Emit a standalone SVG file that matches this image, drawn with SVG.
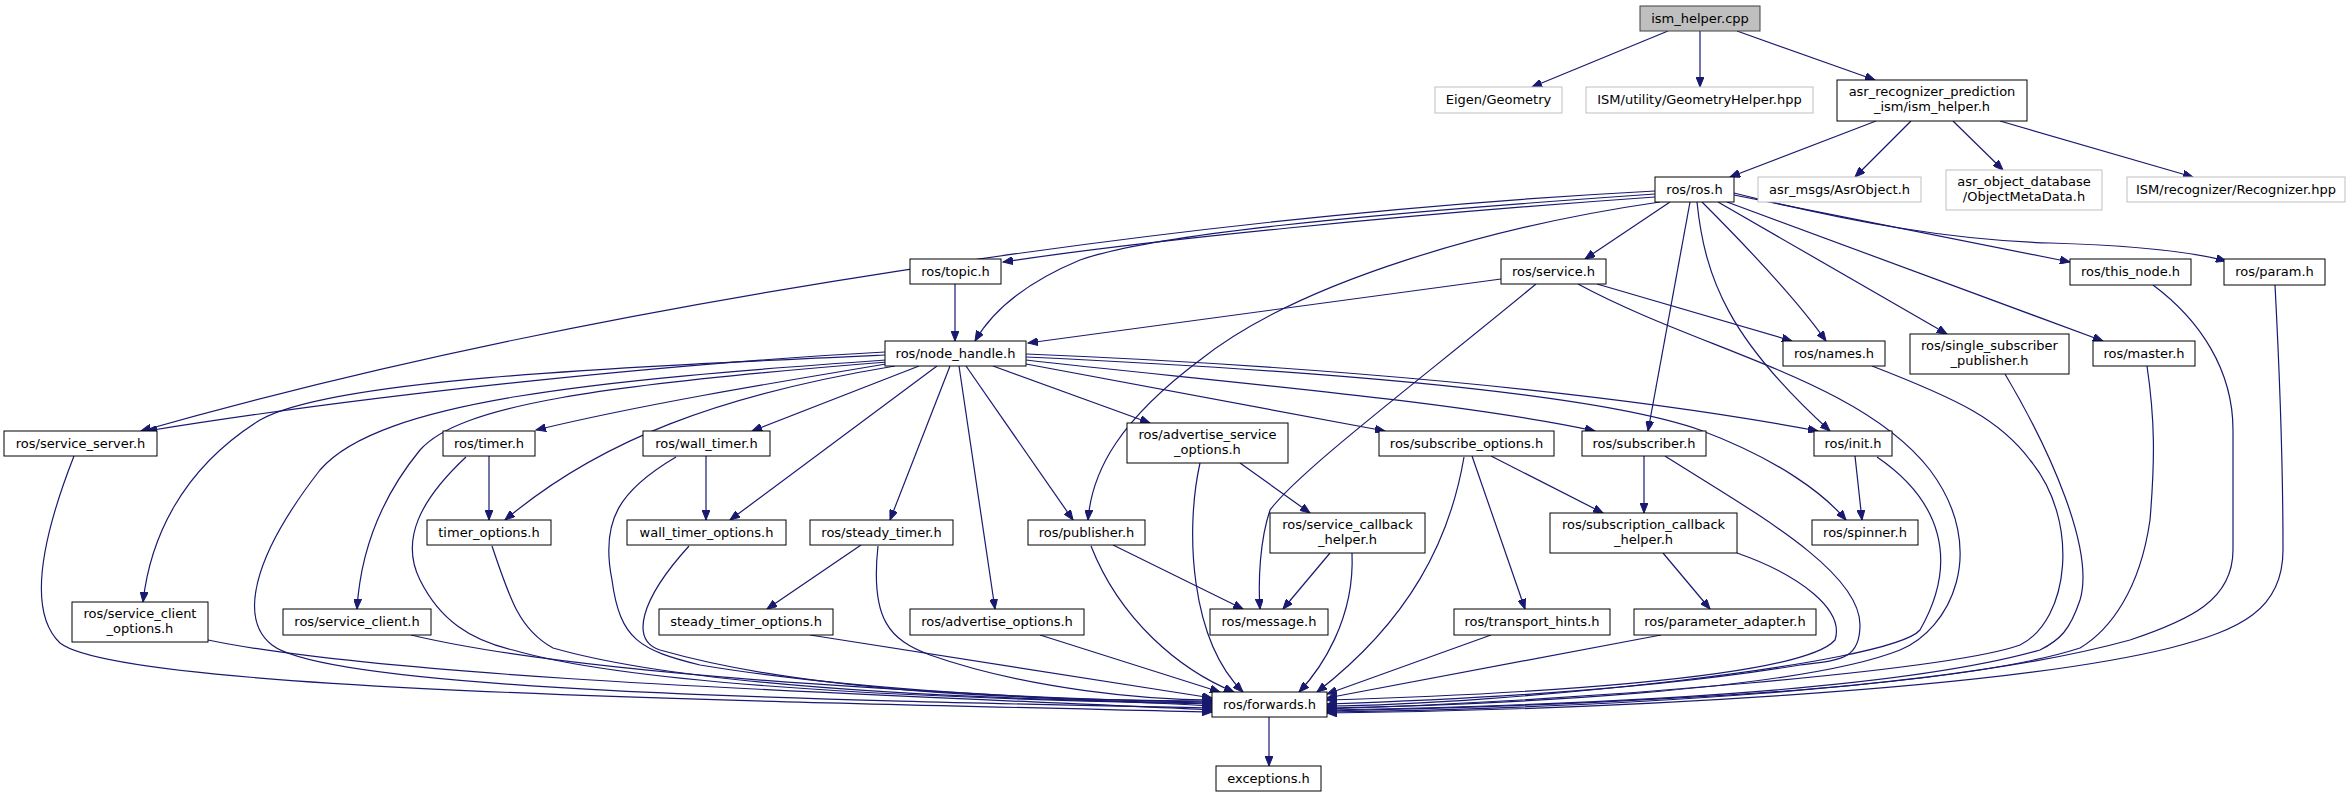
<svg xmlns="http://www.w3.org/2000/svg" width="2351" height="797" viewBox="0 0 2351 797">
<style>
.n rect{fill:#fff;stroke:#000;stroke-width:1}
.n.ext rect{stroke:#bfbfbf}
.n.root rect{fill:#bfbfbf;stroke:#404040}
.n text{font-family:"DejaVu Sans","Liberation Sans",sans-serif;font-size:13px;fill:#000;text-anchor:middle}
#edges path{fill:none;stroke:#191970;stroke-width:1.2;marker-end:url(#ah)}
</style>
<defs>
<marker id="ah" markerWidth="11" markerHeight="8" refX="10" refY="4" orient="auto" markerUnits="userSpaceOnUse"><path d="M0,0 L10,4 L0,8 z" fill="#191970" stroke="#191970" stroke-width="1"/></marker>
</defs>
<rect width="2351" height="797" fill="#fff"/>
<g id="edges">
<path d="M1668,31 L1532,87"/>
<path d="M1700,31 L1700,87"/>
<path d="M1737,31 L1875,80"/>
<path d="M1876,121 L1730,177"/>
<path d="M1911,121 L1855,177"/>
<path d="M1953,121 L2003,170"/>
<path d="M2000,121 L2193,177"/>
<path d="M1655,191 C1200,215 600,300 141,431"/>
<path d="M1655,194 C1350,215 1150,235 1080,260 C1020,285 990,315 975,341"/>
<path d="M1655,197 C1400,215 1150,240 1003,262"/>
<path d="M1660,202 C1500,225 1300,280 1200,360 C1120,420 1092,470 1088,520"/>
<path d="M1670,202 L1585,259"/>
<path d="M1690,202 L1648,431"/>
<path d="M1702,202 C1730,230 1790,290 1826,341"/>
<path d="M1697,202 C1705,280 1730,340 1830,431"/>
<path d="M1718,202 L1947,334"/>
<path d="M1727,202 L2103,341"/>
<path d="M1734,195 L2070,262"/>
<path d="M1734,193 C1850,222 1950,240 2050,243 C2150,246 2200,254 2226,261"/>
<path d="M1501,279 L1028,343"/>
<path d="M1536,284 C1420,380 1300,470 1270,510 C1260,540 1258,580 1260,609"/>
<path d="M1597,284 L1792,341"/>
<path d="M955,284 L955,341"/>
<path d="M885,352 C700,362 400,390 147,431"/>
<path d="M885,355 C600,368 330,380 260,420 C180,470 150,540 143,602"/>
<path d="M887,362 C600,385 460,405 420,450 C375,505 360,560 357,609"/>
<path d="M886,364 C760,385 640,405 536,430"/>
<path d="M895,366 C720,395 600,440 505,520"/>
<path d="M919,366 L752,431"/>
<path d="M937,366 L730,520"/>
<path d="M950,366 L890,520"/>
<path d="M959,366 L995,609"/>
<path d="M966,366 L1073,520"/>
<path d="M993,366 L1150,423"/>
<path d="M1026,364 L1385,431"/>
<path d="M1026,360 C1200,380 1450,400 1595,431"/>
<path d="M1026,354 C1300,365 1600,390 1818,431"/>
<path d="M1026,357 C1350,372 1600,395 1700,430 C1780,460 1825,495 1846,520"/>
<path d="M489,456 L489,520"/>
<path d="M706,456 L706,520"/>
<path d="M861,545 L767,609"/>
<path d="M1113,545 L1243,609"/>
<path d="M1240,463 L1310,513"/>
<path d="M1330,553 L1283,609"/>
<path d="M1491,456 L1603,513"/>
<path d="M1472,456 L1525,609"/>
<path d="M1644,456 L1644,513"/>
<path d="M1663,553 L1710,609"/>
<path d="M1855,456 L1862,520"/>
<path d="M1269,717 L1269,766"/>
<path d="M74,456 C45,530 25,610 60,643 C120,690 700,700 1212,712"/>
<path d="M208,640 C400,680 900,695 1212,710"/>
<path d="M886,360 C600,380 380,400 320,470 C250,560 240,620 272,645 C330,690 800,700 1212,708"/>
<path d="M411,635 C600,680 1000,695 1212,706"/>
<path d="M466,457 C420,500 400,540 420,580 C440,620 470,640 513,650 C650,690 1000,700 1212,704"/>
<path d="M492,546 C510,600 520,630 553,648 C700,690 1000,700 1212,703"/>
<path d="M676,457 C620,490 600,520 612,580 C620,640 640,650 700,665 C850,690 1050,700 1212,702"/>
<path d="M689,546 C640,600 630,640 660,650 C800,690 1000,700 1212,701"/>
<path d="M878,546 C870,620 890,640 930,655 C1030,690 1150,700 1212,700"/>
<path d="M810,635 L1212,698"/>
<path d="M1040,635 L1220,692"/>
<path d="M1091,546 C1120,620 1180,670 1234,692"/>
<path d="M1200,463 C1185,530 1190,640 1243,692"/>
<path d="M1352,553 C1355,620 1320,670 1299,692"/>
<path d="M1464,457 C1450,540 1410,620 1317,692"/>
<path d="M1491,635 L1327,694"/>
<path d="M1661,635 L1327,698"/>
<path d="M1737,553 C1800,575 1845,610 1835,640 C1800,680 1500,695 1327,700"/>
<path d="M1665,456 C1750,510 1860,570 1860,625 C1860,660 1840,660 1800,665 C1650,690 1450,700 1327,704"/>
<path d="M1877,457 C1940,500 1960,560 1920,630 C1890,665 1500,705 1327,706"/>
<path d="M1578,284 C1700,350 1860,380 1930,470 C1990,550 1950,630 1900,650 C1800,690 1500,705 1327,708"/>
<path d="M1872,366 C1960,400 2000,420 2030,460 C2080,520 2070,620 2020,645 C1950,670 1600,700 1327,709"/>
<path d="M2005,374 C2050,450 2095,550 2080,600 C2070,630 2060,640 2040,650 C1900,690 1600,705 1327,710"/>
<path d="M2147,366 C2155,420 2155,460 2150,520 C2140,590 2110,630 2080,648 C1950,690 1600,705 1327,711"/>
<path d="M2153,285 C2200,320 2233,370 2233,430 L2233,550 C2233,600 2190,620 2130,640 C1950,690 1600,708 1327,712"/>
<path d="M2275,285 C2280,380 2283,470 2283,550 C2283,610 2240,630 2170,648 C2000,690 1600,710 1327,713"/>
</g>
<g id="n_ism_helper_cpp" class="n root"><rect x="1640" y="6" width="120" height="25"/><text x="1700" y="23">ism_helper.cpp</text></g>
<g id="n_eigen" class="n ext"><rect x="1435" y="87" width="127" height="26"/><text x="1498.5" y="104">Eigen/Geometry</text></g>
<g id="n_geomhelper" class="n ext"><rect x="1586" y="87" width="227" height="26"/><text x="1699.5" y="104">ISM/utility/GeometryHelper.hpp</text></g>
<g id="n_asr_ism_helper" class="n"><rect x="1837" y="80" width="190" height="41"/><text x="1932" y="96">asr_recognizer_prediction</text><text x="1932" y="111">_ism/ism_helper.h</text></g>
<g id="n_ros_ros" class="n"><rect x="1655" y="177" width="79" height="25"/><text x="1694.5" y="194">ros/ros.h</text></g>
<g id="n_asrobject" class="n ext"><rect x="1758" y="177" width="163" height="25"/><text x="1839.5" y="194">asr_msgs/AsrObject.h</text></g>
<g id="n_objmeta" class="n ext"><rect x="1946" y="170" width="156" height="40"/><text x="2024" y="186">asr_object_database</text><text x="2024" y="201">/ObjectMetaData.h</text></g>
<g id="n_recognizer" class="n ext"><rect x="2127" y="177" width="218" height="25"/><text x="2236" y="194">ISM/recognizer/Recognizer.hpp</text></g>
<g id="n_topic" class="n"><rect x="910" y="259" width="91" height="25"/><text x="955.5" y="276">ros/topic.h</text></g>
<g id="n_service" class="n"><rect x="1501" y="259" width="105" height="25"/><text x="1553.5" y="276">ros/service.h</text></g>
<g id="n_this_node" class="n"><rect x="2070" y="259" width="121" height="26"/><text x="2130.5" y="276">ros/this_node.h</text></g>
<g id="n_param" class="n"><rect x="2224" y="259" width="101" height="26"/><text x="2274.5" y="276">ros/param.h</text></g>
<g id="n_node_handle" class="n"><rect x="885" y="341" width="141" height="25"/><text x="955.5" y="358">ros/node_handle.h</text></g>
<g id="n_names" class="n"><rect x="1783" y="341" width="102" height="25"/><text x="1834" y="358">ros/names.h</text></g>
<g id="n_single_sub_pub" class="n"><rect x="1910" y="334" width="159" height="40"/><text x="1989.5" y="350">ros/single_subscriber</text><text x="1989.5" y="365">_publisher.h</text></g>
<g id="n_master" class="n"><rect x="2093" y="341" width="102" height="25"/><text x="2144" y="358">ros/master.h</text></g>
<g id="n_service_server" class="n"><rect x="4" y="431" width="153" height="25"/><text x="80.5" y="448">ros/service_server.h</text></g>
<g id="n_timer" class="n"><rect x="443" y="431" width="92" height="25"/><text x="489" y="448">ros/timer.h</text></g>
<g id="n_wall_timer" class="n"><rect x="643" y="431" width="127" height="25"/><text x="706.5" y="448">ros/wall_timer.h</text></g>
<g id="n_adv_srv_opts" class="n"><rect x="1127" y="423" width="161" height="40"/><text x="1207.5" y="439">ros/advertise_service</text><text x="1207.5" y="454">_options.h</text></g>
<g id="n_subscribe_opts" class="n"><rect x="1379" y="431" width="175" height="25"/><text x="1466.5" y="448">ros/subscribe_options.h</text></g>
<g id="n_subscriber" class="n"><rect x="1582" y="431" width="124" height="25"/><text x="1644" y="448">ros/subscriber.h</text></g>
<g id="n_init" class="n"><rect x="1814" y="431" width="78" height="25"/><text x="1853" y="448">ros/init.h</text></g>
<g id="n_timer_opts" class="n"><rect x="427" y="520" width="124" height="25"/><text x="489" y="537">timer_options.h</text></g>
<g id="n_wall_timer_opts" class="n"><rect x="627" y="520" width="159" height="25"/><text x="706.5" y="537">wall_timer_options.h</text></g>
<g id="n_steady_timer" class="n"><rect x="810" y="520" width="143" height="25"/><text x="881.5" y="537">ros/steady_timer.h</text></g>
<g id="n_publisher" class="n"><rect x="1028" y="520" width="117" height="25"/><text x="1086.5" y="537">ros/publisher.h</text></g>
<g id="n_srv_cb_helper" class="n"><rect x="1270" y="513" width="155" height="40"/><text x="1347.5" y="529">ros/service_callback</text><text x="1347.5" y="544">_helper.h</text></g>
<g id="n_sub_cb_helper" class="n"><rect x="1550" y="513" width="187" height="40"/><text x="1643.5" y="529">ros/subscription_callback</text><text x="1643.5" y="544">_helper.h</text></g>
<g id="n_spinner" class="n"><rect x="1812" y="520" width="106" height="25"/><text x="1865" y="537">ros/spinner.h</text></g>
<g id="n_srv_client_opts" class="n"><rect x="72" y="602" width="136" height="40"/><text x="140" y="618">ros/service_client</text><text x="140" y="633">_options.h</text></g>
<g id="n_srv_client" class="n"><rect x="283" y="609" width="148" height="26"/><text x="357" y="626">ros/service_client.h</text></g>
<g id="n_steady_timer_opts" class="n"><rect x="659" y="609" width="174" height="26"/><text x="746" y="626">steady_timer_options.h</text></g>
<g id="n_adv_opts" class="n"><rect x="910" y="609" width="174" height="26"/><text x="997" y="626">ros/advertise_options.h</text></g>
<g id="n_message" class="n"><rect x="1210" y="609" width="118" height="26"/><text x="1269" y="626">ros/message.h</text></g>
<g id="n_transport_hints" class="n"><rect x="1454" y="609" width="156" height="26"/><text x="1532" y="626">ros/transport_hints.h</text></g>
<g id="n_param_adapter" class="n"><rect x="1634" y="609" width="182" height="26"/><text x="1725" y="626">ros/parameter_adapter.h</text></g>
<g id="n_forwards" class="n"><rect x="1212" y="692" width="115" height="25"/><text x="1269.5" y="709">ros/forwards.h</text></g>
<g id="n_exceptions" class="n"><rect x="1216" y="766" width="105" height="25"/><text x="1268.5" y="783">exceptions.h</text></g>
</svg>
